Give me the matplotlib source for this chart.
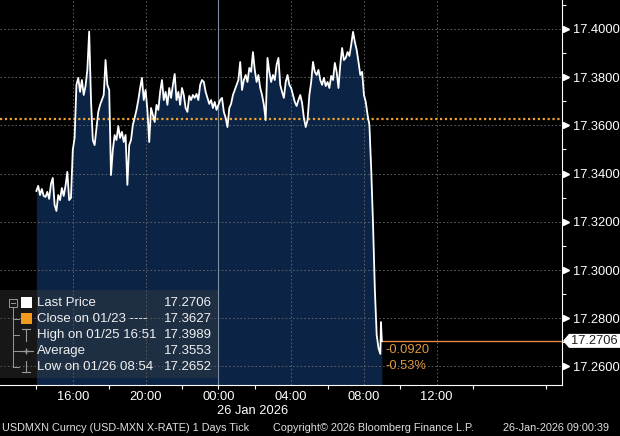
import numpy as np
import pandas as pd
import matplotlib
matplotlib.use("Agg")
from matplotlib import pyplot as plt
import matplotlib.dates as mdates
from matplotlib.patches import Rectangle, Polygon
from matplotlib.ticker import MultipleLocator, FormatStrFormatter, FixedLocator

plt.rcParams['font.family'] = ['Liberation Sans', 'DejaVu Sans']

# precios USDMXN, una fila por hora (cada 6 minutos), 25-ene 14:00 -> 26-ene 08:54
precios = [
    17.3328, 17.3349, 17.3311, 17.3336, 17.3307, 17.3303, 17.3324, 17.3295, 17.3357, 17.3382,  # 14h
    17.3270, 17.3245, 17.3311, 17.3290, 17.3340, 17.3307, 17.3349, 17.3407, 17.3290, 17.3299,  # 15h
    17.3498, 17.3548, 17.3768, 17.3797, 17.3739, 17.3788, 17.3726, 17.3763, 17.3830, 17.3989,  # 16h
    17.3705, 17.3539, 17.3518, 17.3589, 17.3656, 17.3685, 17.3705, 17.3726, 17.3871, 17.3768,  # 17h
    17.3747, 17.3394, 17.3498, 17.3560, 17.3539, 17.3597, 17.3548, 17.3573, 17.3531, 17.3560,  # 18h
    17.3353, 17.3518, 17.3539, 17.3602, 17.3631, 17.3664, 17.3705, 17.3755, 17.3797, 17.3705,  # 19h
    17.3747, 17.3664, 17.3531, 17.3672, 17.3643, 17.3614, 17.3685, 17.3664, 17.3739, 17.3788,  # 20h
    17.3705, 17.3739, 17.3685, 17.3755, 17.3714, 17.3768, 17.3813, 17.3705, 17.3739, 17.3685,  # 21h
    17.3755, 17.3726, 17.3672, 17.3656, 17.3722, 17.3705, 17.3726, 17.3714, 17.3730, 17.3705,  # 22h
    17.3768, 17.3788, 17.3780, 17.3739, 17.3714, 17.3689, 17.3705, 17.3672, 17.3697, 17.3664,  # 23h
    17.3685, 17.3705, 17.3714, 17.3656, 17.3631, 17.3593, 17.3672, 17.3689, 17.3726, 17.3747,  # 00h
    17.3768, 17.3788, 17.3863, 17.3747, 17.3788, 17.3809, 17.3780, 17.3838, 17.3822, 17.3904,  # 01h
    17.3830, 17.3780, 17.3809, 17.3755, 17.3726, 17.3685, 17.3622, 17.3880, 17.3822, 17.3780,  # 02h
    17.3809, 17.3788, 17.3851, 17.3880, 17.3768, 17.3739, 17.3714, 17.3780, 17.3809, 17.3768,  # 03h
    17.3755, 17.3726, 17.3697, 17.3680, 17.3705, 17.3726, 17.3693, 17.3631, 17.3593, 17.3622,  # 04h
    17.3726, 17.3780, 17.3863, 17.3822, 17.3809, 17.3830, 17.3788, 17.3768, 17.3797, 17.3763,  # 05h
    17.3780, 17.3755, 17.3805, 17.3788, 17.3859, 17.3822, 17.3755, 17.3851, 17.3921, 17.3871,  # 06h
    17.3880, 17.3904, 17.3888, 17.3934, 17.3988, 17.3946, 17.3913, 17.3863, 17.3809, 17.3822,  # 07h
    17.3726, 17.3697, 17.3643, 17.3602, 17.3415, 17.3187, 17.2917, 17.2730, 17.2676, 17.2652,  # 08h
]
# ultimos ticks
precios_fin = [17.2784, 17.2706]
horas_fin = ['2026-01-26 08:56', '2026-01-26 08:59']

cierre = 17.3627
ultimo = 17.2706
cambio = '-0.0920'
cambio_pct = '-0.53%'

horas_etq = ['2026-01-25 16:00', '2026-01-25 20:00', '2026-01-26 00:00',
             '2026-01-26 04:00', '2026-01-26 08:00', '2026-01-26 12:00']
horas_marca = ['2026-01-25 14:00', '2026-01-25 18:00', '2026-01-25 22:00', '2026-01-26 00:00',
               '2026-01-26 02:00', '2026-01-26 06:00', '2026-01-26 10:00', '2026-01-26 14:00',
               '2026-01-26 18:00']

leyenda_txt = ['Last Price', 'Close on 01/23 ----', 'High on 01/25 16:51', 'Average', 'Low on 01/26 08:54']
leyenda_val = ['17.2706', '17.3627', '17.3989', '17.3553', '17.2652']

pie_izq = 'USDMXN Curncy (USD-MXN X-RATE) 1 Days Tick'
pie_centro = 'Copyright\u00a9 2026 Bloomberg Finance L.P.'
pie_der = '26-Jan-2026 09:00:39'

tiempos = pd.date_range('2026-01-25 14:00', '2026-01-26 08:54', freq='6min')
tiempos = list(tiempos) + list(pd.to_datetime(horas_fin))
valores = np.array(precios + precios_fin)

W, H = 620, 436
def fx(px):
    return px / W
def fy(py):
    return 1 - py / H

fig = plt.figure(figsize=(6.2, 4.36), dpi=100, facecolor='black')
ax = fig.add_axes([0, fy(385), fx(562), 385 / H])
ax.set_facecolor('black')

y0, y1 = 17.2523, 17.4120
x0 = pd.Timestamp('2026-01-25 12:00')
x1 = pd.Timestamp('2026-01-26 18:53')
ax.set_xlim(x0, x1)
ax.set_ylim(y0, y1)

ax.fill_between(tiempos, valores, y0, color='#0b2445', lw=0, zorder=1)
ax.plot(tiempos, valores, color='white', lw=1.3, zorder=3)

# cierre anterior
ax.axhline(cierre, color='#f0a02c', lw=1.6, ls=(0, (1, 1.2)), zorder=2.5)
# linea del ultimo precio
ax.plot([tiempos[-1], x1], [ultimo, ultimo], color='#e8894a', lw=1.0, zorder=2.5)
# linea del dia
ax.axvline(pd.Timestamp('2026-01-26 00:00'), color='#7f8ea0', lw=0.8, zorder=1.6)

# ejes
for s in ['left', 'top']:
    ax.spines[s].set_visible(False)
ax.spines['right'].set_color('white')
ax.spines['bottom'].set_color('white')

ax.xaxis.set_major_locator(FixedLocator(mdates.date2num(pd.to_datetime(horas_etq))))
ax.xaxis.set_major_formatter(mdates.DateFormatter('%H:%M'))
ax.xaxis.set_minor_locator(FixedLocator(mdates.date2num(pd.to_datetime(horas_marca))))
ax.xaxis.remove_overlapping_locs = False
ax.tick_params(axis='x', which='major', length=0, pad=4, labelcolor='white', labelsize=9.3)
ax.tick_params(axis='x', which='minor', length=3, color='white', width=0.8)

ax.yaxis.tick_right()
ax.yaxis.set_major_locator(MultipleLocator(0.02))
ax.yaxis.set_minor_locator(MultipleLocator(0.01))
ax.yaxis.set_major_formatter(FormatStrFormatter('%.4f'))
ax.tick_params(axis='y', which='major', length=0, pad=8, labelcolor='white', labelsize=9.3)
ax.tick_params(axis='y', which='minor', length=3, color='white', width=0.8)

ax.set_axisbelow('line')
ax.grid(True, which='major', color='#6a6a6a', lw=0.6, ls=(0, (2, 2.5)))

# flechas de los ticks y
yt = [t for t in ax.get_yticks() if y0 <= t <= y1]
ax.plot([1 + 4 / 562] * len(yt), yt, ls='none', marker='>', ms=4.5, color='white',
        transform=ax.get_yaxis_transform(), clip_on=False)

# etiqueta del ultimo precio
py_ult = H - ax.transData.transform((mdates.date2num(x0), ultimo))[1] * (H / fig.bbox.height)
etq = Polygon([(fx(563), fy(py_ult)), (fx(569), fy(py_ult - 7)), (fx(620), fy(py_ult - 7)),
               (fx(620), fy(py_ult + 7)), (fx(569), fy(py_ult + 7))],
              closed=True, transform=fig.transFigure, facecolor='white', edgecolor='none')
fig.patches.append(etq)
fig.text(fx(571), fy(py_ult), '17.2706', color='#202020', fontsize=9.3, va='center', ha='left')

fig.text(fx(385), fy(350), cambio, color='#e09a3a', fontsize=9.3, va='center')
fig.text(fx(385), fy(366), cambio_pct, color='#e09a3a', fontsize=9.3, va='center')

# leyenda
fig.patches.append(Rectangle((fx(0), fy(378)), fx(218), (378 - 290) / H, transform=fig.transFigure,
                             facecolor='#444444', alpha=0.35, edgecolor='none'))
filas = [303, 319, 335, 351, 367]
gris = '#9a9a9a'
fig.lines.append(plt.Line2D([fx(13), fx(13)], [fy(307), fy(367)], color=gris, lw=0.7, transform=fig.transFigure))
for py in filas[1:]:
    fig.lines.append(plt.Line2D([fx(13), fx(19)], [fy(py), fy(py)], color=gris, lw=0.7, transform=fig.transFigure))
fig.patches.append(Rectangle((fx(9), fy(307)), fx(8), 8 / H, transform=fig.transFigure,
                             facecolor='none', edgecolor=gris, lw=0.7))
fig.lines.append(plt.Line2D([fx(11), fx(15)], [fy(303), fy(303)], color=gris, lw=0.7, transform=fig.transFigure))
fig.patches.append(Rectangle((fx(21), fy(308)), fx(11), 11 / H, transform=fig.transFigure,
                             facecolor='white', edgecolor='none'))
fig.patches.append(Rectangle((fx(21), fy(324)), fx(11), 11 / H, transform=fig.transFigure,
                             facecolor='#f39a1e', edgecolor='none'))
# alto
fig.lines.append(plt.Line2D([fx(22), fx(30)], [fy(329), fy(329)], color=gris, lw=0.8, transform=fig.transFigure))
fig.lines.append(plt.Line2D([fx(26), fx(26)], [fy(329), fy(341)], color=gris, lw=0.8, transform=fig.transFigure))
# promedio
fig.lines.append(plt.Line2D([fx(19), fx(33)], [fy(351), fy(351)], color=gris, lw=0.8, transform=fig.transFigure))
fig.lines.append(plt.Line2D([fx(26)], [fy(351)], marker='+', ms=5, color=gris, transform=fig.transFigure))
# bajo
fig.lines.append(plt.Line2D([fx(26), fx(26)], [fy(361), fy(372)], color=gris, lw=0.8, transform=fig.transFigure))
fig.lines.append(plt.Line2D([fx(22), fx(30)], [fy(372), fy(372)], color=gris, lw=0.8, transform=fig.transFigure))

for py, t, v in zip(filas, leyenda_txt, leyenda_val):
    fig.text(fx(37), fy(py), t, color='#f0f0f0', fontsize=9.5, va='center', ha='left')
    fig.text(fx(212), fy(py), v, color='#f0f0f0', fontsize=9.5, va='center', ha='right')

fig.text(fx(217), fy(411), '26 Jan 2026', color='white', fontsize=9.3, va='center', ha='left')

fig.text(fx(2), fy(428), pie_izq, color='#e0e0e0', fontsize=7.8, va='center', ha='left')
fig.text(fx(273), fy(428), pie_centro, color='#e0e0e0', fontsize=7.8, va='center', ha='left')
fig.text(fx(609), fy(428), pie_der, color='#e0e0e0', fontsize=7.8, va='center', ha='right')

fig.savefig('out.png', dpi=100, facecolor='black')
